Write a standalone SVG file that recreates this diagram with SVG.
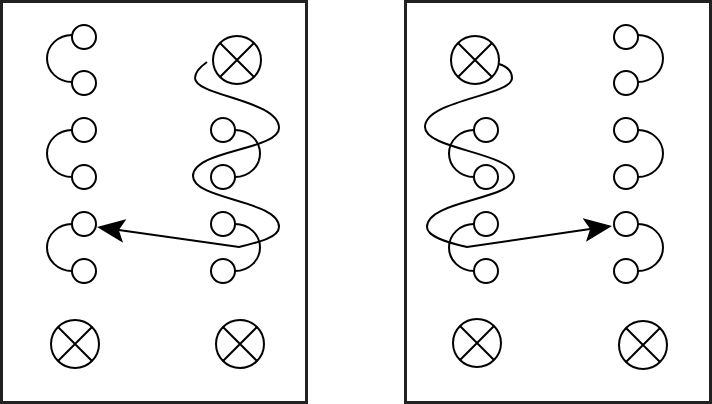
<svg xmlns="http://www.w3.org/2000/svg" width="712" height="404" viewBox="0 0 712 404">
<defs>
<style>
.frame{fill:#fff;stroke:#222;stroke-width:3}
.c{fill:#fff;stroke:#000;stroke-width:2}
.ln{fill:none;stroke:#000;stroke-width:2}
</style>
<marker id="ah" markerUnits="userSpaceOnUse" viewBox="0 0 28 24" markerWidth="28" markerHeight="24" refX="6" refY="12" orient="auto">
<path d="M28,12 L0,0 L6,12 L0,24 z" fill="#000"/>
</marker>
<g id="cross"><circle class="c" r="24"/><path class="ln" d="M-17,-17 L17,17 M17,-17 L-17,17"/></g>
</defs>
<rect class="frame" x="1.5" y="1.5" width="305" height="401"/>
<rect class="frame" x="405.5" y="1.5" width="305" height="401"/>
<g id="connectors">
<path class="ln" d="M72,35 A25 23.5 0 0 0 72,82 M72,130 A25 23.5 0 0 0 72,177 M72,224 A25 23.5 0 0 0 72,271"/>
<path class="ln" d="M235,130 A25 23.5 0 0 1 235,177 M235,224 A25 23.5 0 0 1 235,271"/>
<path class="ln" d="M474,130 A25 23.5 0 0 0 474,177 M474,224 A25 23.5 0 0 0 474,271"/>
<path class="ln" d="M638,35 A25 23.5 0 0 1 638,82 M638,130 A25 23.5 0 0 1 638,177 M638,224 A25 23.5 0 0 1 638,271"/>
<path class="ln" d="M207,62 C200,67 195,72 195,78 C195,96 279,100 279,128 C279,150 193,150 193,176 C193,200 279,200 279,227 C279,237 260,242 239,247 L118.8,230.1" marker-end="url(#ah)"/>
<path class="ln" d="M499,64 C508,67 512,71 512,78 C512,96 425,100 425,127 C425,150 514,152 514,177 C514,200 427,200 427,227 C427,236 445,242 467,247 L590.2,229.1" marker-end="url(#ah)"/>
</g>
<g id="L-a1"><circle class="c" cx="84" cy="37" r="12"/></g>
<g id="L-a2"><circle class="c" cx="84" cy="83" r="12"/></g>
<g id="L-a3"><circle class="c" cx="84" cy="130" r="12"/></g>
<g id="L-a4"><circle class="c" cx="84" cy="177" r="12"/></g>
<g id="L-a5"><circle class="c" cx="84" cy="224" r="12"/></g>
<g id="L-a6"><circle class="c" cx="84" cy="271" r="12"/></g>
<g id="L-b3"><circle class="c" cx="223" cy="130" r="12"/></g>
<g id="L-b4"><circle class="c" cx="223" cy="177" r="12"/></g>
<g id="L-b5"><circle class="c" cx="223" cy="224" r="12"/></g>
<g id="L-b6"><circle class="c" cx="223" cy="271" r="12"/></g>
<g id="L-x1"><use href="#cross" x="237" y="60"/></g>
<g id="L-x2"><use href="#cross" x="75" y="344"/></g>
<g id="L-x3"><use href="#cross" x="240" y="344"/></g>
<g id="R-a3"><circle class="c" cx="486" cy="130" r="12"/></g>
<g id="R-a4"><circle class="c" cx="486" cy="177" r="12"/></g>
<g id="R-a5"><circle class="c" cx="486" cy="224" r="12"/></g>
<g id="R-a6"><circle class="c" cx="486" cy="271" r="12"/></g>
<g id="R-b1"><circle class="c" cx="626" cy="37" r="12"/></g>
<g id="R-b2"><circle class="c" cx="626" cy="83" r="12"/></g>
<g id="R-b3"><circle class="c" cx="626" cy="130" r="12"/></g>
<g id="R-b4"><circle class="c" cx="626" cy="177" r="12"/></g>
<g id="R-b5"><circle class="c" cx="626" cy="224" r="12"/></g>
<g id="R-b6"><circle class="c" cx="626" cy="271" r="12"/></g>
<g id="R-x1"><use href="#cross" x="475" y="60"/></g>
<g id="R-x2"><use href="#cross" x="477" y="343"/></g>
<g id="R-x3"><use href="#cross" x="643" y="345"/></g>
</svg>
